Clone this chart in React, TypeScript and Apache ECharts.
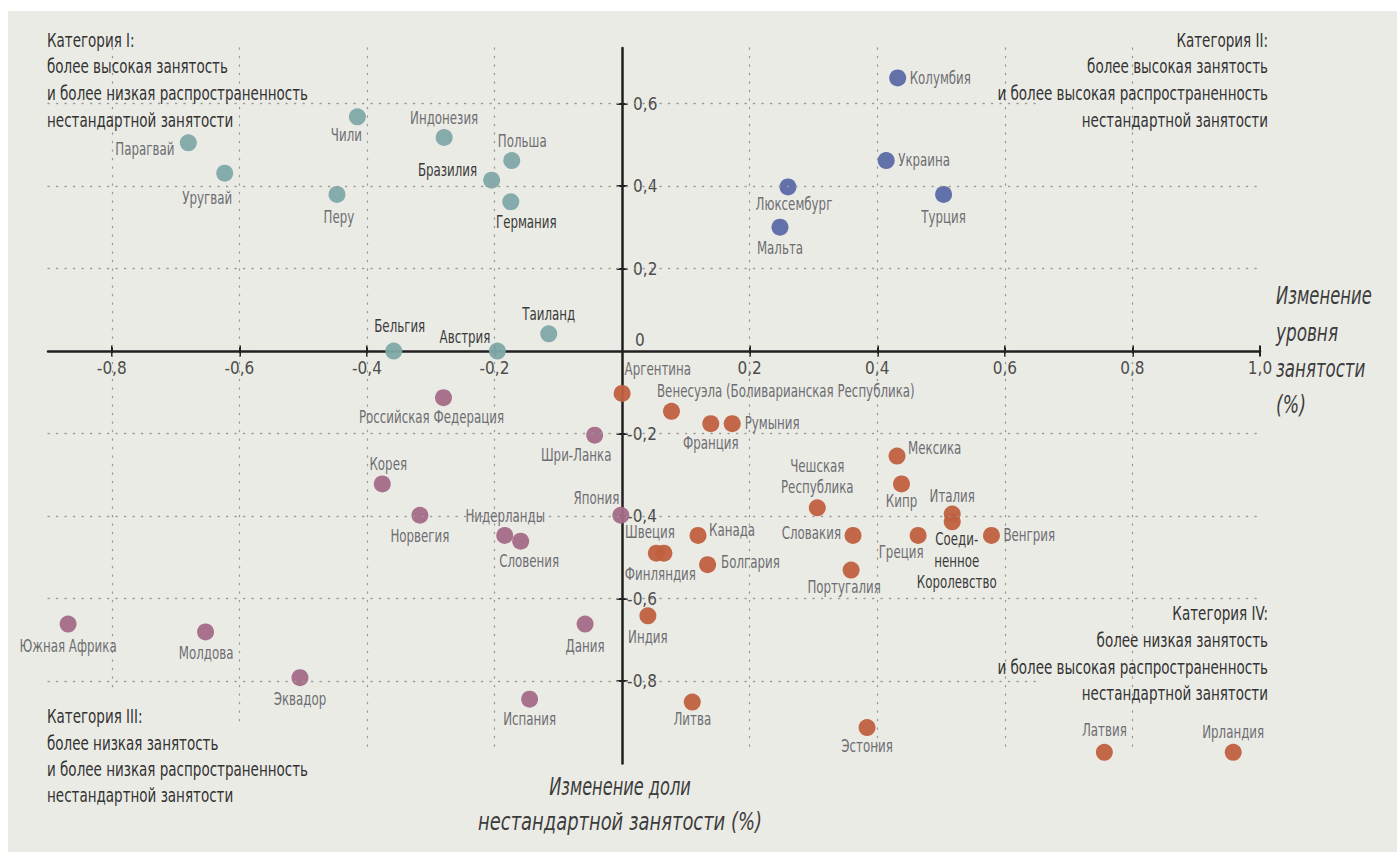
import React, { useEffect, useRef } from "react";
import * as echarts from "echarts";

const FONT = "'Liberation Sans Narrow', 'Arial Narrow', 'DejaVu Sans Condensed', sans-serif";

// ---------- DATA ----------
// Category I: higher employment, lower non-standard employment
const cat1Names = ["Парагвай", "Уругвай", "Чили", "Перу", "Индонезия", "Польша", "Бразилия", "Германия", "Таиланд", "Бельгия", "Австрия"];
const cat1X = [-0.680, -0.623, -0.415, -0.447, -0.279, -0.173, -0.2045, -0.1745, -0.115, -0.358, -0.1955];
const cat1Y = [0.505, 0.4315, 0.568, 0.380, 0.518, 0.462, 0.4145, 0.362, 0.042, 0.0, 0.0];

// Category II: higher employment, higher non-standard employment
const cat2Names = ["Колумбия", "Украина", "Люксембург", "Мальта", "Турция"];
const cat2X = [0.432, 0.414, 0.260, 0.2475, 0.504];
const cat2Y = [0.6625, 0.462, 0.398, 0.3006, 0.380];

// Category III: lower employment, lower non-standard employment
const cat3Names = ["Российская Федерация", "Шри-Ланка", "Корея", "Норвегия", "Нидерланды", "Словения", "Япония", "Южная Африка", "Молдова", "Эквадор", "Дания", "Испания"];
const cat3X = [-0.280, -0.043, -0.376, -0.317, -0.184, -0.159, -0.002, -0.8685, -0.653, -0.505, -0.058, -0.145];
const cat3Y = [-0.113, -0.204, -0.322, -0.398, -0.447, -0.461, -0.398, -0.662, -0.681, -0.792, -0.662, -0.844];

// Category IV: lower employment, higher non-standard employment
const cat4Names = ["Аргентина", "Венесуэла (Боливарианская Республика)", "Франция", "Румыния", "Мексика", "Кипр", "Чешская Республика", "Италия", "Соединенное Королевство", "Венгрия", "Греция", "Словакия", "Португалия", "Канада", "Болгария", "Швеция", "Финляндия", "Индия", "Литва", "Эстония", "Латвия", "Ирландия"];
const cat4X = [0.0, 0.0774, 0.139, 0.1726, 0.431, 0.438, 0.306, 0.5175, 0.5175, 0.579, 0.464, 0.362, 0.359, 0.119, 0.134, 0.0655, 0.0537, 0.0404, 0.110, 0.384, 0.756, 0.958];
const cat4Y = [-0.1025, -0.146, -0.176, -0.176, -0.2545, -0.322, -0.380, -0.395, -0.414, -0.447, -0.447, -0.447, -0.531, -0.447, -0.518, -0.490, -0.490, -0.642, -0.851, -0.913, -0.973, -0.973];

const xTickValues = [-0.8, -0.6, -0.4, -0.2, 0.2, 0.4, 0.6, 0.8, 1.0];
const xGridValues = [-0.8, -0.6, -0.4, -0.2, 0.2, 0.4, 0.6, 0.8];
const yTickValues = [-0.8, -0.6, -0.4, -0.2, 0.2, 0.4, 0.6];
const yLabelValues = [-0.8, -0.6, -0.4, -0.2, 0, 0.2, 0.4, 0.6];

const catTexts = {
  I: ["Категория I:", "более высокая занятость", "и более низкая распространенность", "нестандартной занятости"],
  II: ["Категория II:", "более высокая занятость", "и более высокая распространенность", "нестандартной занятости"],
  III: ["Категория III:", "более низкая занятость", "и более низкая распространенность", "нестандартной занятости"],
  IV: ["Категория IV:", "более низкая занятость", "и более высокая распространенность", "нестандартной занятости"],
};
const yTitleLines = ["Изменение", "уровня", "занятости", "(%)"];
const xTitleLines = ["Изменение доли", "нестандартной занятости (%)"];

// ---------- STYLE / LAYOUT ----------
const W = 1397, H = 855;
const GRID = { left: 48, right: 137, top: 48, bottom: 91.5 };
const X_MIN = -0.9, X_MAX = 1.0, Y_MIN = -1.0, Y_MAX = 0.735;
const COLORS = ["#7fa8a8", "#5b6aa6", "#a56b87", "#c0603f"];
const LABEL_GRAY = "#6d6e71";
const LABEL_DARK = "#3a3a3a";
const AXIS_COLOR = "#231f20";
const LABEL_SCALE = 0.775;

// label anchor relative to the dot centre (pixels)
type Spec = { a: string; dx: number; dy: number; dark?: boolean; lines?: string[]; step?: number };
const labelSpec: Record<string, Spec> = {
  "Парагвай": { a: "right", dx: -14, dy: 7 },
  "Уругвай": { a: "center", dx: -17.5, dy: 25 },
  "Чили": { a: "center", dx: -11, dy: 19 },
  "Перу": { a: "center", dx: 2, dy: 23 },
  "Индонезия": { a: "center", dx: 0, dy: -19 },
  "Польша": { a: "center", dx: 10.5, dy: -19 },
  "Бразилия": { a: "right", dx: -14.5, dy: -10, dark: true },
  "Германия": { a: "center", dx: 15.5, dy: 21, dark: true },
  "Таиланд": { a: "center", dx: 0, dy: -19, dark: true },
  "Бельгия": { a: "center", dx: 6, dy: -25, dark: true },
  "Австрия": { a: "right", dx: -7, dy: -14, dark: true },
  "Колумбия": { a: "left", dx: 12, dy: 1 },
  "Украина": { a: "left", dx: 12, dy: 0 },
  "Люксембург": { a: "center", dx: 6, dy: 17 },
  "Мальта": { a: "center", dx: 0, dy: 21 },
  "Турция": { a: "center", dx: 0, dy: 23 },
  "Российская Федерация": { a: "center", dx: -12, dy: 20 },
  "Шри-Ланка": { a: "center", dx: -18.5, dy: 20 },
  "Корея": { a: "center", dx: 6, dy: -19 },
  "Норвегия": { a: "center", dx: 0, dy: 21 },
  "Нидерланды": { a: "center", dx: 0.5, dy: -19 },
  "Словения": { a: "center", dx: 8.5, dy: 20 },
  "Япония": { a: "right", dx: -1.5, dy: -17 },
  "Южная Африка": { a: "center", dx: 0, dy: 22 },
  "Молдова": { a: "center", dx: 0.5, dy: 21 },
  "Эквадор": { a: "center", dx: 0, dy: 22 },
  "Дания": { a: "center", dx: 0, dy: 22 },
  "Испания": { a: "center", dx: 0, dy: 20 },
  "Аргентина": { a: "left", dx: 2.5, dy: -24 },
  "Венесуэла (Боливарианская Республика)": { a: "left", dx: -14.5, dy: -20 },
  "Франция": { a: "center", dx: 0, dy: 20 },
  "Румыния": { a: "left", dx: 12.5, dy: 0 },
  "Мексика": { a: "left", dx: 11, dy: -8 },
  "Кипр": { a: "center", dx: 0, dy: 18 },
  "Чешская Республика": { a: "center", dx: 0, dy: -41, lines: ["Чешская", "Республика"], step: 21 },
  "Италия": { a: "center", dx: 0, dy: -18 },
  "Соединенное Королевство": { a: "center", dx: 4.5, dy: 17.3, dark: true, lines: ["Соеди-", "ненное", "Королевство"], step: 21.8 },
  "Венгрия": { a: "left", dx: 12, dy: 0 },
  "Греция": { a: "center", dx: -17, dy: 16.5 },
  "Словакия": { a: "right", dx: -12, dy: -2 },
  "Португалия": { a: "center", dx: -7, dy: 17 },
  "Канада": { a: "left", dx: 11, dy: -5 },
  "Болгария": { a: "left", dx: 13.5, dy: -2 },
  "Швеция": { a: "center", dx: -14, dy: -20.5 },
  "Финляндия": { a: "center", dx: 4, dy: 21 },
  "Индия": { a: "center", dx: 0, dy: 21.5 },
  "Литва": { a: "center", dx: 0, dy: 17 },
  "Эстония": { a: "center", dx: 0, dy: 19 },
  "Латвия": { a: "center", dx: 0, dy: -22 },
  "Ирландия": { a: "center", dx: 0, dy: -19.5 },
};

const fmtNum = (v: number) => (Math.round(v * 10) / 10).toFixed(1).replace(".", ",");

function mkSeries(names: string[], xs: number[], ys: number[], color: string) {
  return {
    type: "scatter",
    xAxisIndex: 0,
    yAxisIndex: 0,
    symbolSize: 17,
    z: 3,
    itemStyle: { color, opacity: 0.95 },
    label: { show: false },
    emphasis: { disabled: true },
    data: names.map((n, i) => ({ name: n, value: [xs[i], ys[i]] })),
  };
}

function textLines(lines: string[], x: number, y0: number, step: number, align: string, size: number, fill: string, scales: number[], italic = false) {
  return lines.map((t, i) => ({
    type: "text",
    x,
    y: y0 + i * step,
    scaleX: scales[Math.min(i, scales.length - 1)],
    silent: true,
    z: 10,
    style: {
      text: t,
      fill,
      fontSize: size,
      fontFamily: FONT,
      fontStyle: italic ? "italic" : "normal",
      align,
      textAlign: align,
      verticalAlign: "middle",
      textVerticalAlign: "middle",
    },
  }));
}

const dotted = { type: [1.2, 7.3], color: "#9a9a9a", width: 1.3, cap: "round" };

export default function App() {
  const ref = useRef<HTMLDivElement>(null);
  useEffect(() => {
    if (!ref.current) return;
    const chart = echarts.init(ref.current, null, { renderer: "svg" });

    // pixel geometry of the grid, used to place the axes on the zero lines
    const gw = W - GRID.left - GRID.right;
    const gh = H - GRID.top - GRID.bottom;
    const zeroX = GRID.left + ((0 - X_MIN) / (X_MAX - X_MIN)) * gw;
    const zeroY = GRID.top + ((Y_MAX - 0) / (Y_MAX - Y_MIN)) * gh;

    const gridLines: any[] = [];
    xGridValues.forEach((v) => {
      const bottom = v === -0.8 ? -0.82 : v === -0.6 ? -0.91 : -0.975;
      gridLines.push([{ coord: [v, Y_MAX] }, { coord: [v, bottom] }]);
    });
    yTickValues.forEach((v) => {
      const right = v === 0.6 || v === -0.8 ? 0.65 : 0.995;
      gridLines.push([{ coord: [X_MIN, v] }, { coord: [right, v] }]);
    });

    const allNames = [...cat1Names, ...cat2Names, ...cat3Names, ...cat4Names];
    const allX = [...cat1X, ...cat2X, ...cat3X, ...cat4X];
    const allY = [...cat1Y, ...cat2Y, ...cat3Y, ...cat4Y];

    const tickStyle = { color: AXIS_COLOR, width: 2 };
    const tickLabel = { fontFamily: FONT, fontSize: 17, color: "#4d4d4d" };
    const option: any = {
      animation: false,
      backgroundColor: "transparent",
      grid: { ...GRID, containLabel: false, outerBoundsMode: "none" },
      xAxis: [
        {
          type: "value",
          min: X_MIN,
          max: X_MAX,
          position: "bottom",
          offset: -(H - GRID.bottom - zeroY),
          axisLine: { show: true, onZero: false, lineStyle: { color: AXIS_COLOR, width: 2.5 } },
          axisTick: { show: true, customValues: xTickValues, length: 5.5, lineStyle: tickStyle },
          axisLabel: {
            show: true,
            customValues: xTickValues,
            formatter: (v: number) => fmtNum(v),
            ...tickLabel,
            margin: 8,
          },
          splitLine: { show: false },
        },
        {
          type: "value",
          min: X_MIN,
          max: X_MAX,
          position: "top",
          offset: -(zeroY - GRID.top),
          axisLine: { show: false, onZero: false },
          axisTick: { show: true, customValues: xTickValues, length: 5.5, lineStyle: tickStyle },
          axisLabel: { show: false },
          splitLine: { show: false },
        },
      ],
      yAxis: [
        {
          type: "value",
          min: Y_MIN,
          max: Y_MAX,
          position: "left",
          offset: -(zeroX - GRID.left),
          axisLine: { show: true, onZero: false, lineStyle: { color: AXIS_COLOR, width: 2.5 } },
          axisTick: { show: true, customValues: yTickValues, length: 5.5, lineStyle: tickStyle },
          axisLabel: { show: false },
          splitLine: { show: false },
        },
        {
          type: "value",
          min: Y_MIN,
          max: Y_MAX,
          position: "right",
          offset: -(W - GRID.right - zeroX),
          axisLine: { show: false, onZero: false },
          axisTick: { show: true, customValues: yTickValues, length: 5.5, lineStyle: tickStyle },
          axisLabel: {
            show: true,
            customValues: yLabelValues,
            margin: 5,
            ...tickLabel,
            formatter: (v: number) => {
              if (Math.abs(v) < 1e-9) return "{z|0}";
              if (v > 0) return "{p|" + fmtNum(v) + "}";
              return fmtNum(v);
            },
            rich: {
              z: { padding: [0, 0, 22, 8], ...tickLabel },
              p: { padding: [0, 0, 0, 6], ...tickLabel },
            },
          },
          splitLine: { show: false },
        },
      ],
      series: [
        {
          type: "scatter",
          xAxisIndex: 0,
          yAxisIndex: 0,
          data: [],
          z: 1,
          silent: true,
          markLine: {
            silent: true,
            symbol: ["none", "none"],
            label: { show: false },
            lineStyle: dotted,
            emphasis: { disabled: true },
            data: gridLines,
          },
        },
        mkSeries(cat1Names, cat1X, cat1Y, COLORS[0]),
        mkSeries(cat2Names, cat2X, cat2Y, COLORS[1]),
        mkSeries(cat3Names, cat3X, cat3Y, COLORS[2]),
        mkSeries(cat4Names, cat4X, cat4Y, COLORS[3]),
        {
          type: "custom",
          xAxisIndex: 0,
          yAxisIndex: 0,
          z: 5,
          silent: true,
          clip: false,
          data: allNames.map((n, i) => ({ name: n, value: [allX[i], allY[i]] })),
          renderItem: (params: any, api: any) => {
            const name = allNames[params.dataIndex];
            const s = labelSpec[name] || { a: "center", dx: 0, dy: -19 };
            const pt = api.coord([api.value(0), api.value(1)]);
            const lines = s.lines || [name];
            const step = s.step || 21;
            return {
              type: "group",
              children: lines.map((t, i) => ({
                type: "text",
                x: pt[0] + s.dx,
                y: pt[1] + s.dy + i * step,
                scaleX: LABEL_SCALE,
                style: {
                  text: t,
                  fill: s.dark ? LABEL_DARK : LABEL_GRAY,
                  fontSize: 17,
                  fontFamily: FONT,
                  align: s.a,
                  verticalAlign: "middle",
                },
              })),
            };
          },
        },
      ],
      graphic: [
        {
          type: "rect",
          silent: true,
          z: -100,
          shape: { x: 8, y: 11, width: 1389, height: 841 },
          style: { fill: "#ebebe6" },
        },
        ...textLines(catTexts.I, 47, 40, 26.7, "left", 19, "#333333", [0.79]),
        ...textLines(catTexts.II, 1268, 40, 26.7, "right", 19, "#333333", [0.79]),
        ...textLines(catTexts.III, 47, 716.5, 26.4, "left", 19, "#333333", [0.79]),
        ...textLines(catTexts.IV, 1268, 613.5, 26.7, "right", 19, "#333333", [0.79]),
        ...textLines(yTitleLines, 1276, 296, 36.2, "left", 24, "#3c3c3c", [0.76, 0.78, 0.77, 0.8], true),
        ...textLines(xTitleLines, 620, 786.5, 35, "center", 24, "#3c3c3c", [0.75, 0.83], true),
      ],
    };
    chart.setOption(option);
    return () => chart.dispose();
  }, []);

  return (
    <div
      ref={ref}
      style={{ position: "absolute", left: 0, top: 0, width: W, height: H, background: "#ffffff" }}
    />
  );
}
